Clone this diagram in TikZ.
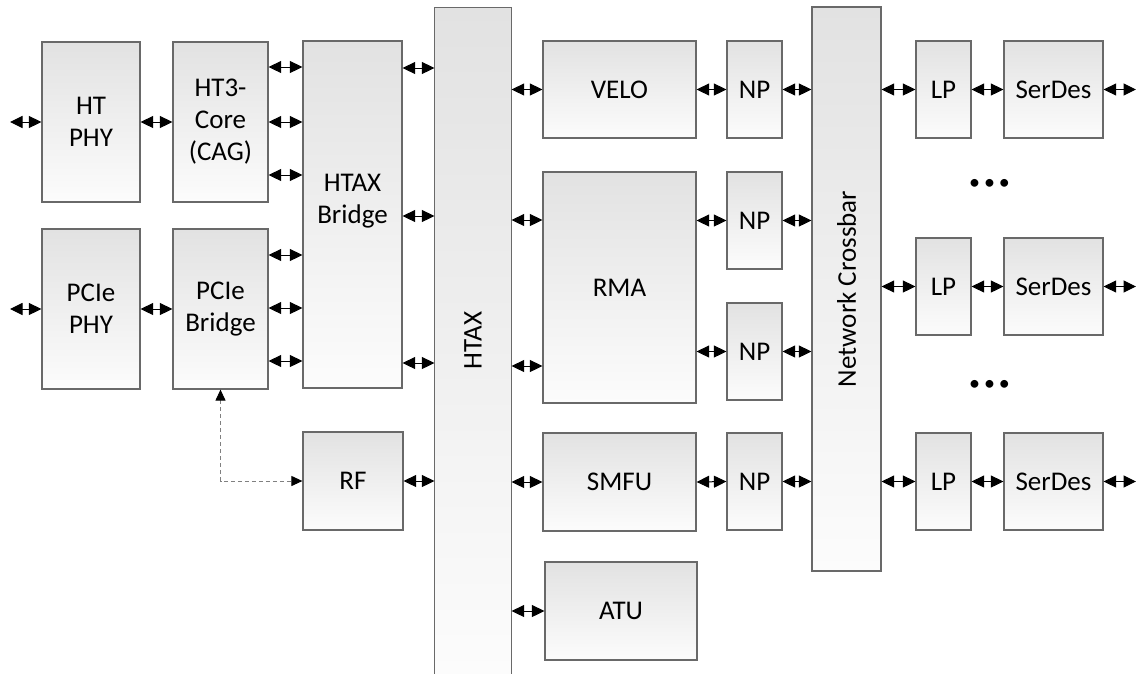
\documentclass[tikz,border=0pt]{standalone}
\usepackage{fontspec}
\setmainfont{Carlito}
\usetikzlibrary{arrows.meta}
\definecolor{boxtop}{RGB}{226,226,226}
\definecolor{boxbot}{RGB}{252,252,252}
\definecolor{boxline}{RGB}{105,105,105}
\begin{document}
\begin{tikzpicture}[x=1pt,y=-1pt,
blk/.style={draw=boxline,line width=1.2pt,top color=boxtop,bottom color=boxbot,inner sep=0pt,align=center,font=\fontsize{27}{32}\selectfont},
wh/.style 2 args={minimum width=#1,minimum height=#2},
bi/.style={{Triangle[length=12.5pt,width=12pt]}-{Triangle[length=12.5pt,width=12pt]},line width=1pt},
dsh/.style={{Triangle[length=11pt,width=10pt,black]}-{Triangle[length=11pt,width=10pt,black]},draw=gray,line width=1pt,dash pattern=on 4pt off 3pt},
dotrow/.style={font=\fontsize{22}{26}\selectfont,inner sep=0pt}]
\useasboundingbox (0,0) rectangle (1137,673);
\node[blk,wh={98}{160}] (htphy) at (91,122) {HT\\PHY};
\node[blk,wh={95}{160}] (htcore) at (220.5,122) {HT3-\\Core\\(CAG)};
\node[blk,wh={99}{347}] (hbr) at (352.5,214.5) {HTAX\\Bridge\\\mbox{}};
\node[blk,wh={98}{160}] (pciephy) at (91,309) {PCIe\\PHY};
\node[blk,wh={95}{160}] (pcieb) at (220.5,309) {PCIe\\Bridge};
\node[blk,wh={100}{98}] (rf) at (353,481) {RF};
\node[blk,draw=none,wh={76}{665}] (htax) at (473,340.5) {\rotatebox{90}{HTAX}};
\draw[boxline,line width=1.2pt](htax.south west)--(htax.north west)--(htax.north east)--(htax.south east);
\node[blk,wh={153}{97}] (velo) at (619.5,89.5) {VELO};
\node[blk,wh={153}{231}] (rma) at (619.5,287.5) {RMA};
\node[blk,wh={153}{98}] (smfu) at (619.5,482) {SMFU};
\node[blk,wh={152}{98}] (atu) at (621,611) {ATU};
\node[blk,wh={55}{97}] (npa) at (754.5,89.5) {NP};
\node[blk,wh={55}{97}] (npb) at (754.5,220.5) {NP};
\node[blk,wh={55}{97}] (npc) at (754.5,351.5) {NP};
\node[blk,wh={55}{97}] (npd) at (754.5,481.5) {NP};
\node[blk,wh={69}{564}] (xbar) at (846.5,289) {\rotatebox{90}{Network Crossbar}};
\node[blk,wh={55}{97}] (lpa) at (943.5,89.5) {LP};
\node[blk,wh={55}{97}] (lpb) at (943.5,286.5) {LP};
\node[blk,wh={55}{97}] (lpc) at (943.5,481.5) {LP};
\node[blk,wh={99}{97}] (sda) at (1053.5,89.5) {SerDes};
\node[blk,wh={99}{97}] (sdb) at (1053.5,286.5) {SerDes};
\node[blk,wh={99}{97}] (sdc) at (1053.5,481.5) {SerDes};
\node[dotrow] (dotsa) at (989.5,184) {•\hspace{4pt}•\hspace{4pt}•};
\node[dotrow] (dotsb) at (989.5,385) {•\hspace{4pt}•\hspace{4pt}•};
\coordinate (htin) at (10,122);
\coordinate (pciein) at (10,309);
\coordinate (outa) at (1136,89.5);
\coordinate (outb) at (1136,286.5);
\coordinate (outc) at (1136,481.5);
\draw[bi](htin)--(htphy.west);
\draw[bi](htphy.east)--(htcore.west);
\draw[bi](pciein)--(pciephy.west);
\draw[bi](pciephy.east)--(pcieb.west);
\draw[bi](htcore.east |- 0,67)--(hbr.west |- 0,67);
\draw[bi](htcore.east |- 0,122)--(hbr.west |- 0,122);
\draw[bi](htcore.east |- 0,175)--(hbr.west |- 0,175);
\draw[bi](pcieb.east |- 0,255)--(hbr.west |- 0,255);
\draw[bi](pcieb.east |- 0,308)--(hbr.west |- 0,308);
\draw[bi](pcieb.east |- 0,361)--(hbr.west |- 0,361);
\draw[bi](hbr.east |- 0,68)--(htax.west |- 0,68);
\draw[bi](hbr.east |- 0,216)--(htax.west |- 0,216);
\draw[bi](hbr.east |- 0,363)--(htax.west |- 0,363);
\draw[bi](rf.east)--(htax.west |- rf.east);
\draw[dsh](pcieb.south)|-(rf.west);
\draw[bi](htax.east |- velo.west)--(velo.west);
\draw[bi](htax.east |- 0,220)--(rma.west |- 0,220);
\draw[bi](htax.east |- 0,366)--(rma.west |- 0,366);
\draw[bi](htax.east |- smfu.west)--(smfu.west);
\draw[bi](htax.east |- atu.west)--(atu.west);
\draw[bi](velo.east)--(npa.west);
\draw[bi](rma.east |- npb.west)--(npb.west);
\draw[bi](rma.east |- npc.west)--(npc.west);
\draw[bi](smfu.east)--(npd.west);
\draw[bi](npa.east)--(xbar.west |- npa.east);
\draw[bi](npb.east)--(xbar.west |- npb.east);
\draw[bi](npc.east)--(xbar.west |- npc.east);
\draw[bi](npd.east)--(xbar.west |- npd.east);
\draw[bi](xbar.east |- lpa.west)--(lpa.west);
\draw[bi](xbar.east |- lpb.west)--(lpb.west);
\draw[bi](xbar.east |- lpc.west)--(lpc.west);
\draw[bi](lpa.east)--(sda.west);
\draw[bi](lpb.east)--(sdb.west);
\draw[bi](lpc.east)--(sdc.west);
\draw[bi](sda.east)--(outa);
\draw[bi](sdb.east)--(outb);
\draw[bi](sdc.east)--(outc);
\end{tikzpicture}
\end{document}
